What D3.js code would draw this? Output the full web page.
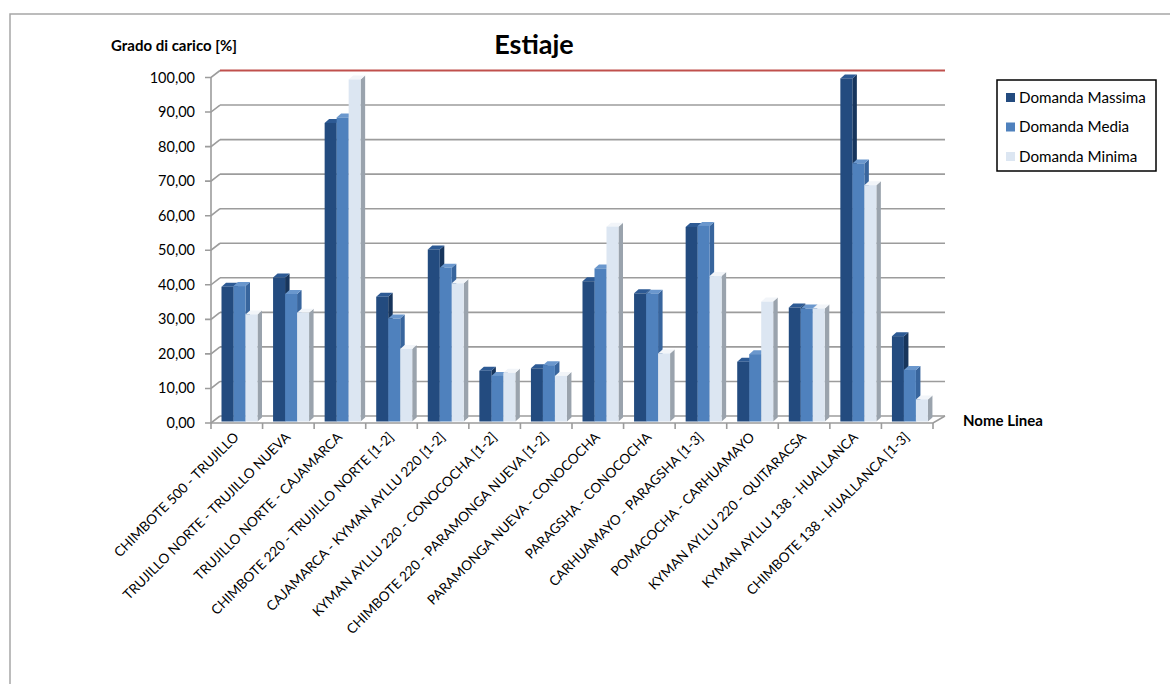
<!doctype html>
<html>
<head>
  <meta charset="utf-8">
  <script src="https://cdnjs.cloudflare.com/ajax/libs/d3/7.8.5/d3.min.js"></script>
  <style>
    body { margin: 0; background: white; }
    text { font-family: Lato, 'Open Sans', sans-serif; fill: #000; }
    .grid { stroke: #9c9c9c; stroke-width: 1.6px; }
  </style>
</head>
<body>
  <script>
    const categories = [
      'CHIMBOTE 500 - TRUJILLO',
      'TRUJILLO NORTE - TRUJILLO NUEVA',
      'TRUJILLO NORTE - CAJAMARCA',
      'CHIMBOTE 220 - TRUJILLO NORTE [1-2]',
      'CAJAMARCA - KYMAN AYLLU 220 [1-2]',
      'KYMAN AYLLU 220 - CONOCOCHA [1-2]',
      'CHIMBOTE 220 - PARAMONGA NUEVA [1-2]',
      'PARAMONGA NUEVA - CONOCOCHA',
      'PARAGSHA - CONOCOCHA',
      'CARHUAMAYO - PARAGSHA [1-3]',
      'POMACOCHA - CARHUAMAYO',
      'KYMAN AYLLU 220 - QUITARACSA',
      'KYMAN AYLLU 138 - HUALLANCA',
      'CHIMBOTE 138 - HUALLANCA [1-3]'
    ];
    const seriesNames = ['Domanda Massima', 'Domanda Media', 'Domanda Minima'];
    const massima = [39.0, 41.7, 86.4, 36.1, 49.8, 14.7, 15.4, 40.6, 37.1, 56.3, 17.3, 33.0, 99.3, 24.7];
    const media   = [39.2, 36.9, 88.0, 29.8, 44.5, 13.2, 16.3, 44.3, 37.0, 56.6, 19.5, 32.7, 74.7, 14.9];
    const minima  = [31.0, 31.5, 99.0, 21.0, 40.0, 14.1, 13.2, 56.4, 19.7, 42.1, 34.7, 32.7, 68.4, 6.4];
    const yTicks = d3.range(0, 101, 10);

    const frontCol = ['#234b7f', '#4f81bd', '#dce6f2'];
    const sideCol  = ['#17355c', '#38659d', '#9aa3ad'];
    const topCol   = ['#2d5a94', '#6a97cd', '#f2f5f9'];

    const width = 1170, height = 684;
    const wall = {dx: 9, dy: -7};     // depth of the 3d floor/walls
    const bd = {dx: 4.5, dy: -4};     // depth of a single bar

    const svg = d3.select('body').append('svg')
      .attr('width', width)
      .attr('height', height);

    svg.append('rect')
      .attr('x', 10).attr('y', 14)
      .attr('width', 1200).attr('height', 700)
      .attr('fill', 'none').attr('stroke', '#a6a6a6').attr('stroke-width', 1.5);

    const x = d3.scaleBand().domain(categories).range([211, 933]);
    const xs = d3.scaleBand().domain(seriesNames).range([10.5, 46.5]);
    const y = d3.scaleLinear().domain([0, 100]).range([423, 77.5]);

    const x0 = x.range()[0], x1 = x.range()[1];
    const backRight = x1 + 12;

    // back wall gridlines
    svg.selectAll('.grid')
      .data(yTicks.filter(t => t < 100))
      .join('line')
      .attr('class', 'grid')
      .attr('x1', x0 + wall.dx).attr('x2', backRight)
      .attr('y1', d => y(d) + wall.dy).attr('y2', d => y(d) + wall.dy);

    // left wall edges + ticks
    svg.selectAll('.lw')
      .data(yTicks)
      .join('path')
      .attr('class', 'grid')
      .attr('fill', 'none')
      .attr('d', d => `M${x0 - 6},${y(d)}L${x0},${y(d)}L${x0 + wall.dx},${y(d) + wall.dy}`);

    svg.append('line').attr('class', 'grid')
      .attr('x1', x0).attr('x2', x0).attr('y1', y(100)).attr('y2', y(0));

    // floor
    svg.append('path').attr('class', 'grid').attr('fill', 'none')
      .attr('d', `M${x0},${y(0)}L${x1},${y(0)}L${backRight},${y(0) + wall.dy}`);

    svg.selectAll('.xtick')
      .data(categories.map(c => x(c)).concat([x1]))
      .join('line')
      .attr('class', 'grid')
      .attr('x1', d => d).attr('x2', d => d)
      .attr('y1', y(0)).attr('y2', y(0) + 6);

    // red 100% line on the back wall
    svg.append('line')
      .attr('x1', x0 + wall.dx).attr('x2', backRight)
      .attr('y1', y(100) + wall.dy).attr('y2', y(100) + wall.dy)
      .attr('stroke', '#c0504d').attr('stroke-width', 2.2);

    // bars
    const data = [];
    categories.forEach((c, i) => {
      [massima, media, minima].forEach((arr, s) => {
        data.push({cat: c, s: s, v: arr[i]});
      });
    });

    const base = y(0) - 1.5;
    const bars = svg.append('g').selectAll('g')
      .data(data)
      .join('g');

    bars.each(function(d) {
      const g = d3.select(this);
      const bx = x(d.cat) + xs(seriesNames[d.s]);
      const w = xs.bandwidth();
      const yt = y(d.v) - 1.5;
      g.append('path')
        .attr('fill', sideCol[d.s])
        .attr('d', `M${bx + w},${yt}L${bx + w + bd.dx},${yt + bd.dy}L${bx + w + bd.dx},${base + bd.dy}L${bx + w},${base}Z`);
      g.append('path')
        .attr('fill', topCol[d.s])
        .attr('d', `M${bx},${yt}L${bx + bd.dx},${yt + bd.dy}L${bx + w + bd.dx},${yt + bd.dy}L${bx + w},${yt}Z`);
      g.append('rect')
        .attr('x', bx).attr('y', yt)
        .attr('width', w).attr('height', base - yt)
        .attr('fill', frontCol[d.s]);
    });

    // y tick labels
    svg.selectAll('.ylab')
      .data(yTicks)
      .join('text')
      .attr('x', 195)
      .attr('y', d => y(d) + 5)
      .attr('text-anchor', 'end')
      .style('font-size', '14.5px')
      .text(d => d3.format('.2f')(d).replace('.', ','));

    // category labels
    svg.selectAll('.xlab')
      .data(categories)
      .join('text')
      .attr('transform', d => `translate(${x(d) + x.bandwidth() / 2 + 3},${y(0) + 15}) rotate(-45)`)
      .attr('text-anchor', 'end')
      .style('font-size', '13.6px')
      .text(d => d);

    svg.append('text')
      .attr('x', 534).attr('y', 54)
      .attr('text-anchor', 'middle')
      .style('font-size', '27px').style('font-weight', 'bold')
      .text('Estiaje');

    svg.append('text')
      .attr('x', 111).attr('y', 51)
      .style('font-size', '15px').style('font-weight', 'bold')
      .text('Grado di carico [%]');

    svg.append('text')
      .attr('x', 963).attr('y', 426)
      .style('font-size', '15px').style('font-weight', 'bold')
      .text('Nome Linea');

    // legend
    const lg = svg.append('g').attr('transform', 'translate(997,80)');
    lg.append('rect')
      .attr('width', 159).attr('height', 91)
      .attr('fill', 'white').attr('stroke', '#000').attr('stroke-width', 1.5);
    const li = lg.selectAll('g')
      .data(seriesNames)
      .join('g')
      .attr('transform', (d, i) => `translate(9,${13 + i * 29.5})`);
    li.append('rect')
      .attr('width', 9).attr('height', 9)
      .attr('fill', (d, i) => frontCol[i]);
    li.append('text')
      .attr('x', 13).attr('y', 9.5)
      .style('font-size', '15.2px')
      .text(d => d);
  </script>
</body>
</html>
